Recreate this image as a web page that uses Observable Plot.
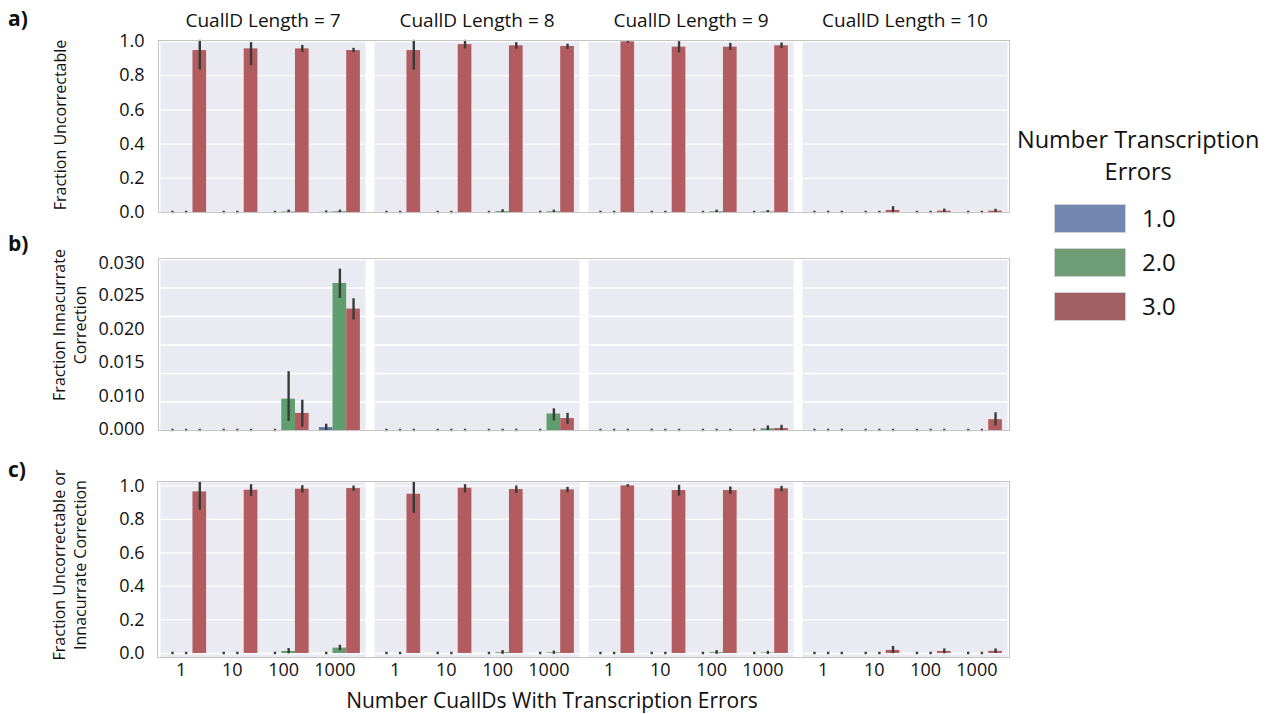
<!DOCTYPE html>
<html><head><meta charset="utf-8">
<script src="https://cdn.jsdelivr.net/npm/d3@7"></script>
<script src="https://cdn.jsdelivr.net/npm/@observablehq/plot@0.6"></script>
<style>
body{margin:0;background:#fff;font-family:"Open Sans",sans-serif;color:#111;}
#root{position:relative;width:1271px;height:714px;overflow:hidden;background:#fff;}
#root svg{position:absolute;left:0;}
.abs{position:absolute;white-space:nowrap;}
.panel{font-weight:bold;font-size:21px;}
.rowframe{position:absolute;border:1.5px solid #c4c4c4;box-sizing:border-box;pointer-events:none;}
.ylab{position:absolute;transform:translate(-50%,-50%) rotate(-90deg);text-align:center;font-size:16px;line-height:21px;white-space:nowrap;}
.sw{position:absolute;width:72px;height:29px;box-sizing:border-box;border:1px solid #d0d0d0;}
.lt{position:absolute;font-size:24px;line-height:32px;}
</style></head><body><div id="root"></div>
<script>
// ---- categories ----
const lengths = [7, 8, 9, 10];
const counts = ["1", "10", "100", "1000"];
const errorLevels = ["1.0", "2.0", "3.0"];
const barColors = ["#5975a5", "#5f9e6e", "#b35c5f"];
const legendColors = ["#7388b0", "#6e9c74", "#a05f62"];

// ---- panel a: Fraction Uncorrectable (order: length 7..10, each count 1..1000) ----
const aBlue   = [0,0,0,0.001, 0,0,0,0, 0,0,0,0, 0,0,0,0];
const aBlueLo = [0,0,0,0, 0,0,0,0, 0,0,0,0, 0,0,0,0];
const aBlueHi = [0,0,0,0.002, 0,0,0,0, 0,0,0,0, 0,0,0,0];
const aGreen   = [0,0,0.003,0.004, 0,0,0.005,0.004, 0,0,0.004,0.003, 0,0,0,0];
const aGreenLo = [0,0,0.001,0.002, 0,0,0.002,0.002, 0,0,0.002,0.001, 0,0,0,0];
const aGreenHi = [0,0,0.007,0.007, 0,0,0.009,0.007, 0,0,0.007,0.005, 0,0,0,0];
const aRed   = [0.947,0.957,0.957,0.947, 0.947,0.982,0.975,0.971, 0.998,0.967,0.967,0.975, 0,0.012,0.008,0.008];
const aRedLo = [0.84,0.865,0.943,0.941, 0.84,0.963,0.961,0.961, 0.998,0.941,0.955,0.967, 0,0,0.004,0.004];
const aRedHi = [1.0,0.986,0.97,0.953, 1.0,1.0,0.986,0.977, 0.998,0.992,0.982,0.984, 0,0.027,0.013,0.012];

// ---- panel b: Fraction Innacurrate Correction ----
const bBlue   = [0,0,0,0.0005, 0,0,0,0, 0,0,0,0, 0,0,0,0];
const bBlueLo = [0,0,0,0.0002, 0,0,0,0, 0,0,0,0, 0,0,0,0];
const bBlueHi = [0,0,0,0.0009, 0,0,0,0, 0,0,0,0, 0,0,0,0];
const bGreen   = [0,0,0.0055,0.0258, 0,0,0,0.0029, 0,0,0,0.0003, 0,0,0,0];
const bGreenLo = [0,0,0.0018,0.0234, 0,0,0,0.0019, 0,0,0,0.0001, 0,0,0,0];
const bGreenHi = [0,0,0.0101,0.0281, 0,0,0,0.0036, 0,0,0,0.0006, 0,0,0,0];
const bRed   = [0,0,0.003,0.0213, 0,0,0,0.0021, 0,0,0,0.00035, 0,0,0,0.0019];
const bRedLo = [0,0,0.0008,0.0196, 0,0,0,0.0013, 0,0,0,0.0001, 0,0,0,0.001];
const bRedHi = [0,0,0.0051,0.0229, 0,0,0,0.0028, 0,0,0,0.0007, 0,0,0,0.0029];

// ---- panel c: Fraction Uncorrectable or Innacurrate Correction ----
const cBlue   = [0,0,0,0, 0,0,0,0, 0,0,0,0, 0,0,0,0];
const cBlueLo = [0,0,0,0, 0,0,0,0, 0,0,0,0, 0,0,0,0];
const cBlueHi = [0,0,0,0, 0,0,0,0, 0,0,0,0, 0,0,0,0];
const cGreen   = [0,0,0.012,0.032, 0,0,0.005,0.004, 0,0,0.005,0.003, 0,0,0,0];
const cGreenLo = [0,0,0.005,0.024, 0,0,0.002,0.002, 0,0,0.002,0.001, 0,0,0,0];
const cGreenHi = [0,0,0.022,0.042, 0,0,0.01,0.007, 0,0,0.01,0.006, 0,0,0,0];
const cRed   = [0.964,0.974,0.98,0.984, 0.95,0.986,0.978,0.976, 1.0,0.972,0.972,0.982, 0,0.018,0.012,0.013];
const cRedLo = [0.861,0.944,0.964,0.974, 0.843,0.966,0.962,0.966, 1.0,0.946,0.956,0.972, 0,0.006,0.005,0.007];
const cRedHi = [1.014,1.0,0.994,0.992, 1.014,1.0,0.992,0.984, 1.0,0.996,0.986,0.99, 0,0.035,0.02,0.02];

// ---- tick labels ----
const unitTicks = [0, 0.2, 0.4, 0.6, 0.8, 1.0];
const bGrid = [0, 0.005, 0.01, 0.015, 0.02, 0.025, 0.03];
const bTickPositions = [0.0002, 0.006, 0.012, 0.0178, 0.0237, 0.0293];
const bTickLabels = ["0.000", "0.010", "0.015", "0.020", "0.025", "0.030"];

function rows(series) {
  const out = [];
  lengths.forEach((L, li) => counts.forEach((c, ci) => series.forEach(([v, lo, hi], ei) => {
    const k = li * 4 + ci;
    out.push({length: L, ci, ei, err: errorLevels[ei], v: v[k], lo: lo[k], hi: hi[k]});
  })));
  return out;
}
const dataA = rows([[aBlue,aBlueLo,aBlueHi],[aGreen,aGreenLo,aGreenHi],[aRed,aRedLo,aRedHi]]);
const dataB = rows([[bBlue,bBlueLo,bBlueHi],[bGreen,bGreenLo,bGreenHi],[bRed,bRedLo,bRedHi]]);
const dataC = rows([[cBlue,cBlueLo,cBlueHi],[cGreen,cGreenLo,cGreenHi],[cRed,cRedLo,cRedHi]]);

const bw = 0.8 / 3;
function rowPlot(data, o) {
  const marks = [
    Plot.frame({fill: "#EAEAF2"}),
    Plot.ruleY(o.grid, {stroke: "#fff", strokeWidth: 1.3}),
    Plot.rectY(data, {fx: "length", x1: d => d.ci - 0.4 + d.ei * bw, x2: d => d.ci - 0.4 + (d.ei + 1) * bw,
      y1: d => 0, y2: "v", fill: "err"}),
    Plot.ruleX(data, {fx: "length", x: d => d.ci - 0.4 + (d.ei + 0.5) * bw, y1: "lo", y2: "hi",
      stroke: "#3a3a3a", strokeWidth: 2.4, strokeLinecap: "square"})
  ];
  if (o.titles) marks.push(Plot.text(lengths, {fx: d => d, text: d => `CuallD Length = ${d}`,
    frameAnchor: "top", lineAnchor: "middle", dy: -21, fontSize: 19, fill: "#111"}));
  return Plot.plot({
    width: 1271, height: o.height, marginLeft: 159, marginRight: 262,
    marginTop: o.marginTop, marginBottom: o.marginBottom,
    style: {fontFamily: "Open Sans", fontSize: "18px", background: "transparent", color: "#111", overflow: "visible"},
    fx: {domain: lengths, paddingInner: 0.04, paddingOuter: 0, axis: null, label: null},
    x: {domain: [-0.5, 3.5], axis: o.xaxis ? "bottom" : null, ticks: [0, 1, 2, 3],
        tickFormat: i => counts[i], tickSize: 0, tickPadding: 6, label: null},
    y: {domain: o.yDomain, ticks: o.yTicks, tickFormat: o.yFormat, tickSize: 0, tickPadding: 16, label: null},
    color: {domain: errorLevels, range: barColors},
    marks
  });
}

const root = document.getElementById("root");
const f1 = d3.format(".1f");
const pa = rowPlot(dataA, {height: 214, marginTop: 41, marginBottom: 2, yDomain: [0, 1], yTicks: unitTicks,
  yFormat: f1, grid: unitTicks, titles: true});
pa.style.top = "0px";
const pb = rowPlot(dataB, {height: 202, marginTop: 29, marginBottom: 2, yDomain: [0, 0.03], yTicks: bTickPositions,
  yFormat: d => bTickLabels[bTickPositions.indexOf(d)], grid: bGrid});
pb.style.top = "230px";
const pc = rowPlot(dataC, {height: 249, marginTop: 22, marginBottom: 52, yDomain: [-0.024, 1.02], yTicks: unitTicks,
  yFormat: f1, grid: unitTicks, xaxis: true});
pc.style.top = "460px";
root.append(pa, pb, pc);
pc.querySelectorAll("g[aria-label='x-axis tick label'] text").forEach(t => t.setAttribute("dx", "-5"));

function add(html) { root.insertAdjacentHTML("beforeend", html); }
// row frames
add(`<div class="rowframe" style="left:158px;top:40px;width:852px;height:173px"></div>`);
add(`<div class="rowframe" style="left:158px;top:258px;width:852px;height:173px"></div>`);
add(`<div class="rowframe" style="left:157px;top:481px;width:853px;height:177px"></div>`);
// panel letters
add(`<div class="abs panel" style="left:8px;top:4px">a)</div>`);
add(`<div class="abs panel" style="left:8px;top:229px">b)</div>`);
add(`<div class="abs panel" style="left:8px;top:455px">c)</div>`);
// y labels
add(`<div class="ylab" style="left:60px;top:125px">Fraction Uncorrectable</div>`);
add(`<div class="ylab" style="left:70px;top:325px">Fraction Innacurrate<br>Correction</div>`);
add(`<div class="ylab" style="left:70px;top:565px">Fraction Uncorrectable or<br>Innacurrate Correction</div>`);
// x title
add(`<div class="abs" style="left:552px;top:690px;transform:translateX(-50%);font-size:21px;line-height:21px">Number CuallDs With Transcription Errors</div>`);
// legend
add(`<div class="abs" style="left:1017px;top:123px;font-size:23.5px;line-height:32px;text-align:center">Number Transcription<br><span style="display:inline-block">Errors</span></div>`);
errorLevels.forEach((e, i) => {
  add(`<div class="sw" style="left:1054px;top:${204 + i * 44}px;background:${legendColors[i]}"></div>`);
  add(`<div class="lt" style="left:1142px;top:${202 + i * 44}px">${e}</div>`);
});
</script></body></html>
